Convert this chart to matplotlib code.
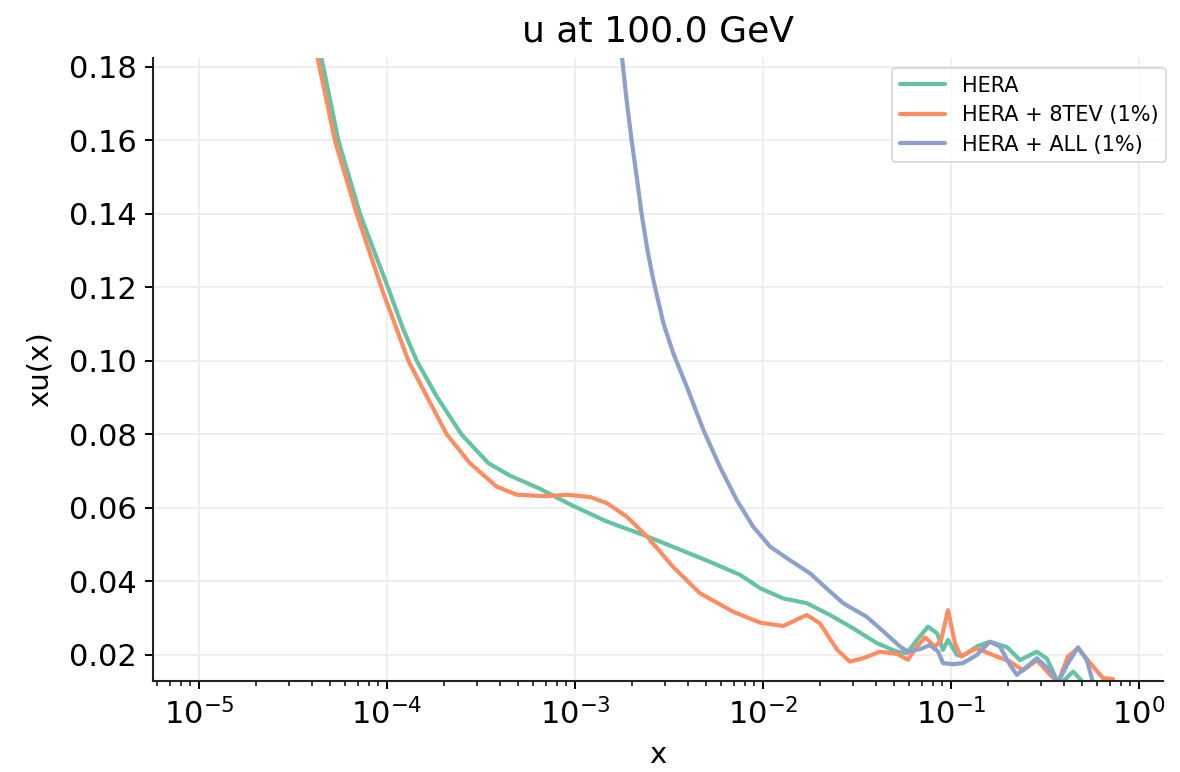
import matplotlib
matplotlib.use("Agg")
import matplotlib.pyplot as plt

# Momentum fraction x and xu(x) for each fit
hera_x = [4.25e-5, 4.58e-5, 5.51e-5, 7.18e-5, 1.02e-4, 1.22e-4, 1.44e-4, 1.84e-4,
          2.49e-4, 3.46e-4, 4.51e-4, 6.52e-4, 7.36e-4, 9.75e-4, 1.48e-3, 2.30e-3,
          3.49e-3, 5.42e-3, 7.55e-3, 9.64e-3, 1.28e-2, 1.71e-2, 2.27e-2, 3.01e-2,
          4.04e-2, 5.16e-2, 5.83e-2, 6.59e-2, 7.55e-2, 8.43e-2, 9.06e-2, 9.64e-2,
          0.1076, 0.116, 0.137, 0.161, 0.199, 0.233, 0.286, 0.324, 0.371, 0.380,
          0.446, 0.516]
hera_y = [0.188, 0.180, 0.160, 0.140, 0.1195, 0.1086, 0.100, 0.0903,
          0.0800, 0.0722, 0.0688, 0.0652, 0.0638, 0.0606, 0.0563, 0.0527,
          0.0490, 0.0450, 0.0418, 0.0382, 0.0354, 0.0341, 0.0309, 0.0273,
          0.0232, 0.0209, 0.0205, 0.0241, 0.0277, 0.0259, 0.0214, 0.0241,
          0.0200, 0.0198, 0.0223, 0.0236, 0.0221, 0.0186, 0.0209, 0.0190, 0.0125, 0.0120,
          0.0155, 0.0120]

tev8_x = [4.05e-5, 4.37e-5, 5.28e-5, 6.90e-5, 9.55e-5, 1.30e-4, 1.63e-4, 2.08e-4,
          2.76e-4, 3.83e-4, 4.91e-4, 6.92e-4, 9.06e-4, 1.20e-3, 1.48e-3, 1.89e-3,
          2.42e-3, 3.32e-3, 4.62e-3, 6.92e-3, 9.64e-3, 1.28e-2, 1.71e-2, 2.01e-2,
          2.48e-2, 2.90e-2, 3.40e-2, 4.19e-2, 5.16e-2, 5.90e-2, 6.59e-2, 7.28e-2,
          8.22e-2, 8.85e-2, 9.64e-2, 0.105, 0.113, 0.126, 0.137, 0.167, 0.206,
          0.242, 0.286, 0.337, 0.371, 0.419, 0.474, 0.569, 0.644, 0.728]
tev8_y = [0.188, 0.180, 0.160, 0.140, 0.1185, 0.100, 0.0903, 0.0800,
          0.0722, 0.0658, 0.0636, 0.0632, 0.0636, 0.0630, 0.0613, 0.0576,
          0.0522, 0.0440, 0.0368, 0.0318, 0.0288, 0.0279, 0.0309, 0.0286,
          0.0214, 0.0182, 0.0191, 0.0209, 0.0203, 0.0187, 0.0223, 0.0248,
          0.0223, 0.0240, 0.0322, 0.0232, 0.0196, 0.0209, 0.0218, 0.0200, 0.0182,
          0.0158, 0.0186, 0.0146, 0.0125, 0.0196, 0.0218, 0.0169, 0.0137, 0.0135]

all_x = [1.71e-3, 1.78e-3, 1.88e-3, 2.00e-3, 2.13e-3, 2.26e-3, 2.43e-3, 2.61e-3,
         2.95e-3, 3.33e-3, 3.93e-3, 4.82e-3, 5.90e-3, 7.24e-3, 8.87e-3, 1.09e-2,
         1.39e-2, 1.78e-2, 2.18e-2, 2.67e-2, 3.56e-2, 4.37e-2, 5.36e-2, 5.90e-2,
         6.84e-2, 7.73e-2, 8.55e-2, 9.06e-2, 0.1026, 0.116, 0.137, 0.161, 0.182,
         0.206, 0.224, 0.254, 0.286, 0.337, 0.371, 0.419, 0.474, 0.528, 0.569]
all_y = [0.190, 0.1824, 0.171, 0.160, 0.150, 0.140, 0.130, 0.122,
         0.1103, 0.1021, 0.0930, 0.0812, 0.0712, 0.0622, 0.0549, 0.0495,
         0.0458, 0.0422, 0.0381, 0.0341, 0.0304, 0.0264, 0.0223, 0.0209,
         0.0216, 0.0227, 0.0209, 0.0178, 0.0175, 0.0178, 0.0200, 0.0236, 0.0223,
         0.0173, 0.0146, 0.0169, 0.0191, 0.0158, 0.0125, 0.0178, 0.0221, 0.0186, 0.0125]

labels = ["HERA", "HERA + 8TEV (1%)", "HERA + ALL (1%)"]
colors = ["#66c2a5", "#fc8d62", "#8da0cb"]
y_ticks = [0.02, 0.04, 0.06, 0.08, 0.10, 0.12, 0.14, 0.16, 0.18]

fig = plt.figure(figsize=(11.8, 7.72), dpi=100)
ax = fig.add_axes([0.1297, 0.1179, 0.8559, 0.8070])

for xs, ys, lab, col in zip([hera_x, tev8_x, all_x], [hera_y, tev8_y, all_y], labels, colors):
    ax.plot(xs, ys, color=col, lw=3.0, label=lab,
            solid_joinstyle="round", solid_capstyle="round")

ax.set_xscale("log")
ax.set_xlim(5.69e-6, 1.342)
ax.set_ylim(0.01293, 0.18245)
ax.set_yticks(y_ticks)
ax.set_yticklabels([f"{v:.2f}" for v in y_ticks])

ax.grid(True, which="major", color="#ededed", lw=1.3)
ax.set_axisbelow(True)
for side in ("top", "right"):
    ax.spines[side].set_visible(False)
for side in ("left", "bottom"):
    ax.spines[side].set_linewidth(1.5)
    ax.spines[side].set_color("#222222")

ax.tick_params(axis="both", which="major", labelsize=22, length=6, width=1.4, pad=6)
ax.tick_params(axis="x", which="minor", length=3.5, width=1.1)

ax.set_title("u at 100.0 GeV", fontsize=26, pad=12)
ax.set_xlabel("x", fontsize=21, labelpad=8)
ax.set_ylabel("xu(x)", fontsize=21, labelpad=11)

leg = ax.legend(loc="upper right", bbox_to_anchor=(1.003, 0.9835), borderaxespad=0,
                fontsize=15, frameon=True, fancybox=True, handlelength=2.2,
                handletextpad=0.8, labelspacing=0.46, borderpad=0.35)
leg.get_frame().set_edgecolor("#cccccc")
leg.get_frame().set_linewidth(1.2)

fig.savefig("out.png", dpi=100)
